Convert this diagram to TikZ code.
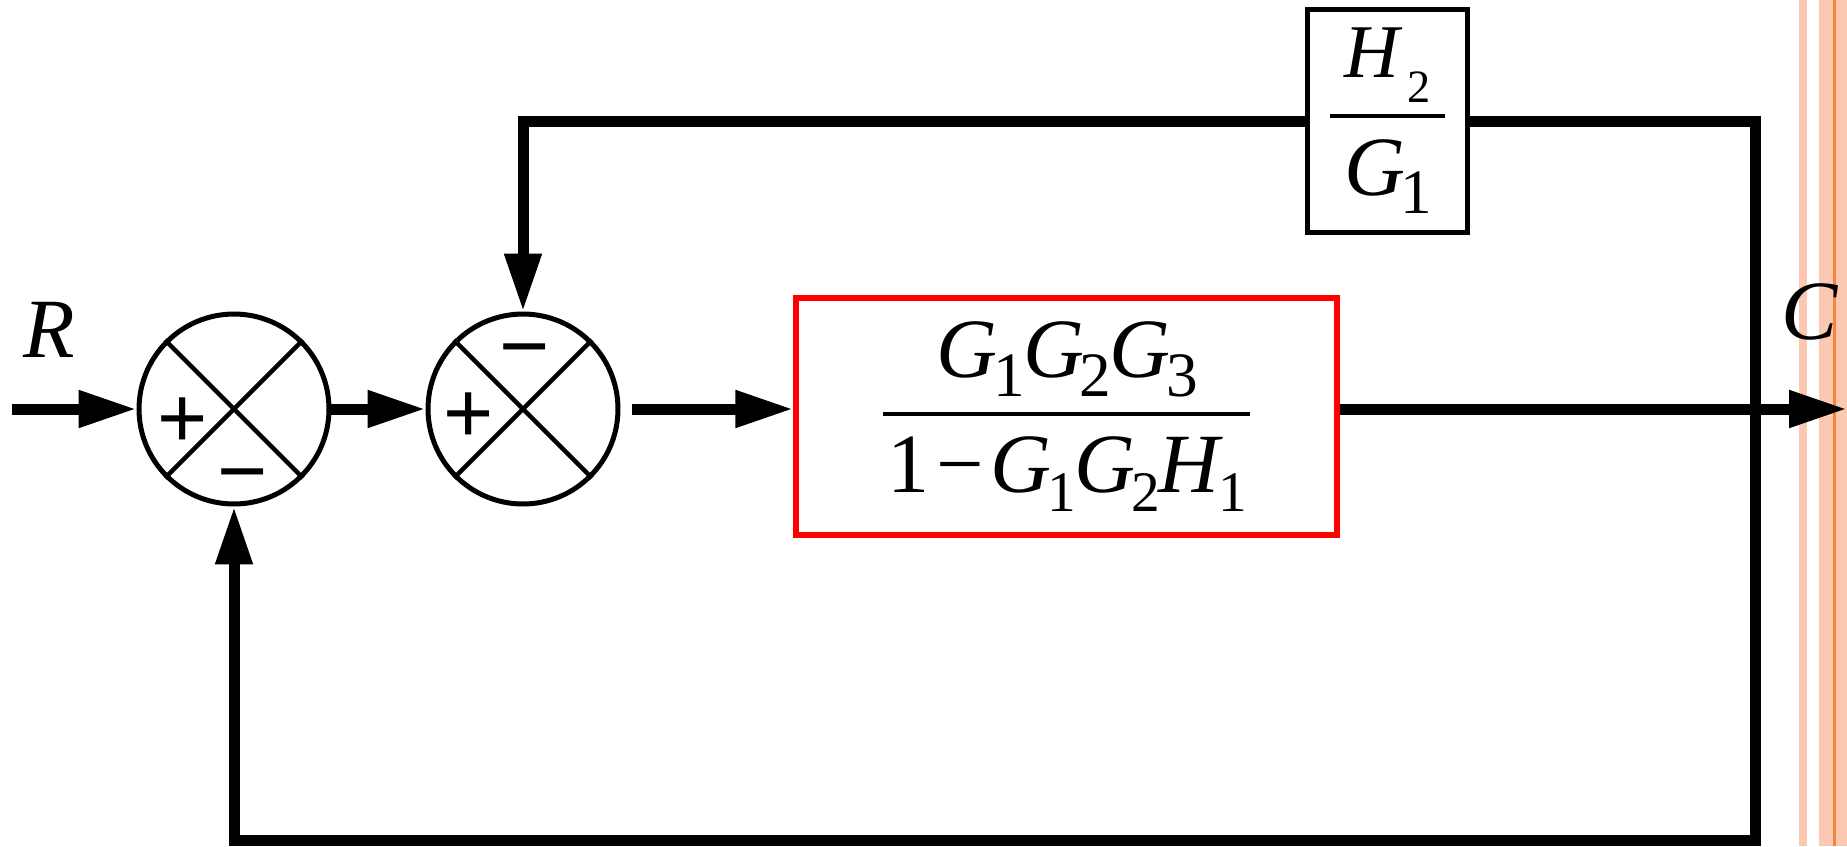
\RequirePackage{fix-cm}
\documentclass[tikz,border=0pt]{standalone}
\usepackage{amsmath}
\usepackage{fontspec}
\setmainfont{Liberation Serif}
\newfontfamily\signfont{Liberation Sans}
\usetikzlibrary{arrows.meta}

\definecolor{stripelight}{RGB}{252,200,178}
\definecolor{stripedark}{RGB}{245,135,60}

% italic letter with a lowered index
\newcommand{\vb}[3][0.7]{\textit{#2}\kern-0.05em\raisebox{-0.22em}{\scalebox{#1}{#3}}\kern-0.02em}
\newcommand{\frc}[3][\,]{$\genfrac{}{}{2.3pt}{0}{#1\text{#2}#1}{#1\text{#3}#1}$}

\begin{document}
\begin{tikzpicture}[x=0.02cm,y=-0.02cm,
  wire/.style={line width=0.22cm},
  sigarrow/.style={-{Triangle[length=1.16cm,width=0.7cm]}},
  sumpt/.style={circle,draw,line width=0.1cm,minimum size=3.8cm,inner sep=0pt},
  blockbox/.style={draw,line width=0.11cm,inner sep=0pt,font=\fontsize{48}{56}\selectfont},
  sign/.style={font=\signfont\fontsize{49}{52}\selectfont,inner sep=0pt,anchor=base},
  lbl/.style={font=\fontsize{48}{56}\selectfont\itshape,inner sep=0pt}]
  \useasboundingbox (0,0) rectangle (1847,846);

  % stripes at the right edge
  \fill[stripelight] (1799,0) rectangle (1807,846);
  \fill[stripelight] (1819,0) rectangle (1847,846);
  \draw[stripedark,line width=0.06cm] (1834.5,0) -- (1834.5,846);

  \node[sumpt] (s1) at (234,409) {};
  \node[sumpt] (s2) at (523,409) {};
  \draw[line width=0.09cm] (s1.north west) -- (s1.south east);
  \draw[line width=0.09cm] (s1.south west) -- (s1.north east);
  \draw[line width=0.09cm] (s2.north west) -- (s2.south east);
  \draw[line width=0.09cm] (s2.south west) -- (s2.north east);
  \node[sign] (s1p) at (183,447) {+};
  \node[sign] (s1m) at (243,500) {−};
  \node[sign] (s2p) at (469,442) {+};
  \node[sign] (s2m) at (525,375) {−};

  \node[blockbox,draw=red,minimum width=10.82cm,minimum height=4.74cm] (g) at (1066.5,416.5)
    {\frc[\kern0.05em]{\vb[0.75]{G}{1}\vb[0.75]{G}{2}\vb[0.75]{G}{3}}{1\kern0.08em−\kern0.08em\vb[0.68]{G}{1}\vb[0.68]{G}{2}\vb[0.68]{H}{1}}};
  \node[blockbox,minimum width=3.2cm,minimum height=4.46cm] (h) at (1387.5,121)
    {\frc{\scalebox{0.9}{\textit{H}}\kern0.06em\raisebox{-0.29em}{\scalebox{0.55}{2}}}{\vb[0.75]{G}{1}}};

  \node[lbl] (rlab) at (49.5,330) {R};
  \node[lbl] (clab) at (1810,311.5) {C};

  \coordinate (in) at (12,409);
  \coordinate (tap) at (1755,409);
  \coordinate (out) at (1847,409);
  \coordinate (bot) at (1755,840);

  \draw[wire,sigarrow] (in) -- (s1.west);
  \draw[wire,sigarrow] (s1.east) -- (s2.west);
  \draw[wire,sigarrow,shorten <=0.24cm] (s2.east) -- (g.west |- s2);
  \draw[wire,sigarrow] (g.east |- s2) -- (out);
  \draw[wire] (tap) |- (h.east);
  \draw[wire,sigarrow] (h.west) -| (s2.north);
  \draw[wire,sigarrow] (tap) -- (bot) -| (s1.south);
\end{tikzpicture}
\end{document}
